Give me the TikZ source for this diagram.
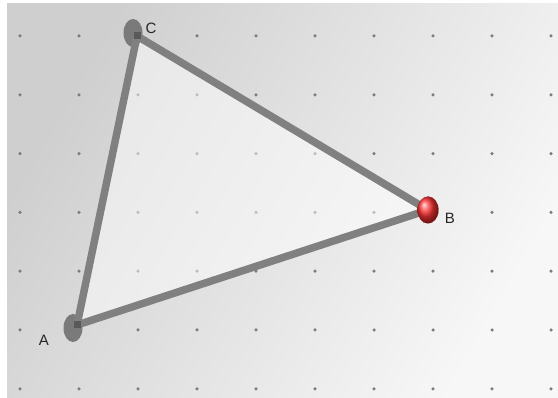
\documentclass[tikz,border=0pt]{standalone}
\usepackage{fontspec}
\setsansfont{Liberation Sans}
\usepackage{xcolor}
\usetikzlibrary{shapes.geometric,shadings}

\definecolor{griddot}{RGB}{135,118,124}

\begin{document}
\begin{tikzpicture}[x=1pt, y=-1pt, font=\sffamily\fontsize{15}{18}\selectfont,
  vtx/.style={ellipse, inner sep=0pt, minimum width=19pt, minimum height=28pt, fill=black!52},
  tip/.style={rectangle, inner sep=0pt, minimum size=7pt, fill=black!65},
  side/.style={line width=7.5pt, draw=black!50},
  dot/.style={circle, inner sep=0pt, minimum size=3.5pt, fill=griddot},
  lbl/.style={text=black!85, inner sep=0pt}]
\useasboundingbox (0,0) rectangle (558,398);
\fill[white] (0,0) rectangle (558,398);
\shade[left color=black!19, right color=black!3, shading angle=60] (7,4) rectangle (558,398);

% grid
\foreach \i in {0,...,9}
  \foreach \j in {0,...,6}
    \node[dot] (d-\i-\j) at (20+59*\i, 36+58.8*\j) {};

\coordinate (a) at (77,325);
\coordinate (b) at (428,210);
\coordinate (c) at (137,36);
\fill[white, opacity=0.5] (a) -- (b) -- (c) -- cycle;

\node[vtx] (A) at (73,328) {};
\node[vtx] (C) at (133,33) {};

\draw[side] (a) -- (b);
\draw[side] (b) -- (c);
\draw[side] (c) -- (a);
\node[tip] (ta) at (a) {};
\node[tip] (tc) at (c) {};

\node[ellipse, inner sep=0pt, minimum width=21pt, minimum height=27pt, shading=ball, ball color=red!80!white, draw=red!60!black, densely dotted, thin] (B) at (b) {};

\node[lbl] (la) at (44,340) {A};
\node[lbl] (lb) at (450,218) {B};
\node[lbl] (lc) at (151,28) {C};
\end{tikzpicture}
\end{document}
